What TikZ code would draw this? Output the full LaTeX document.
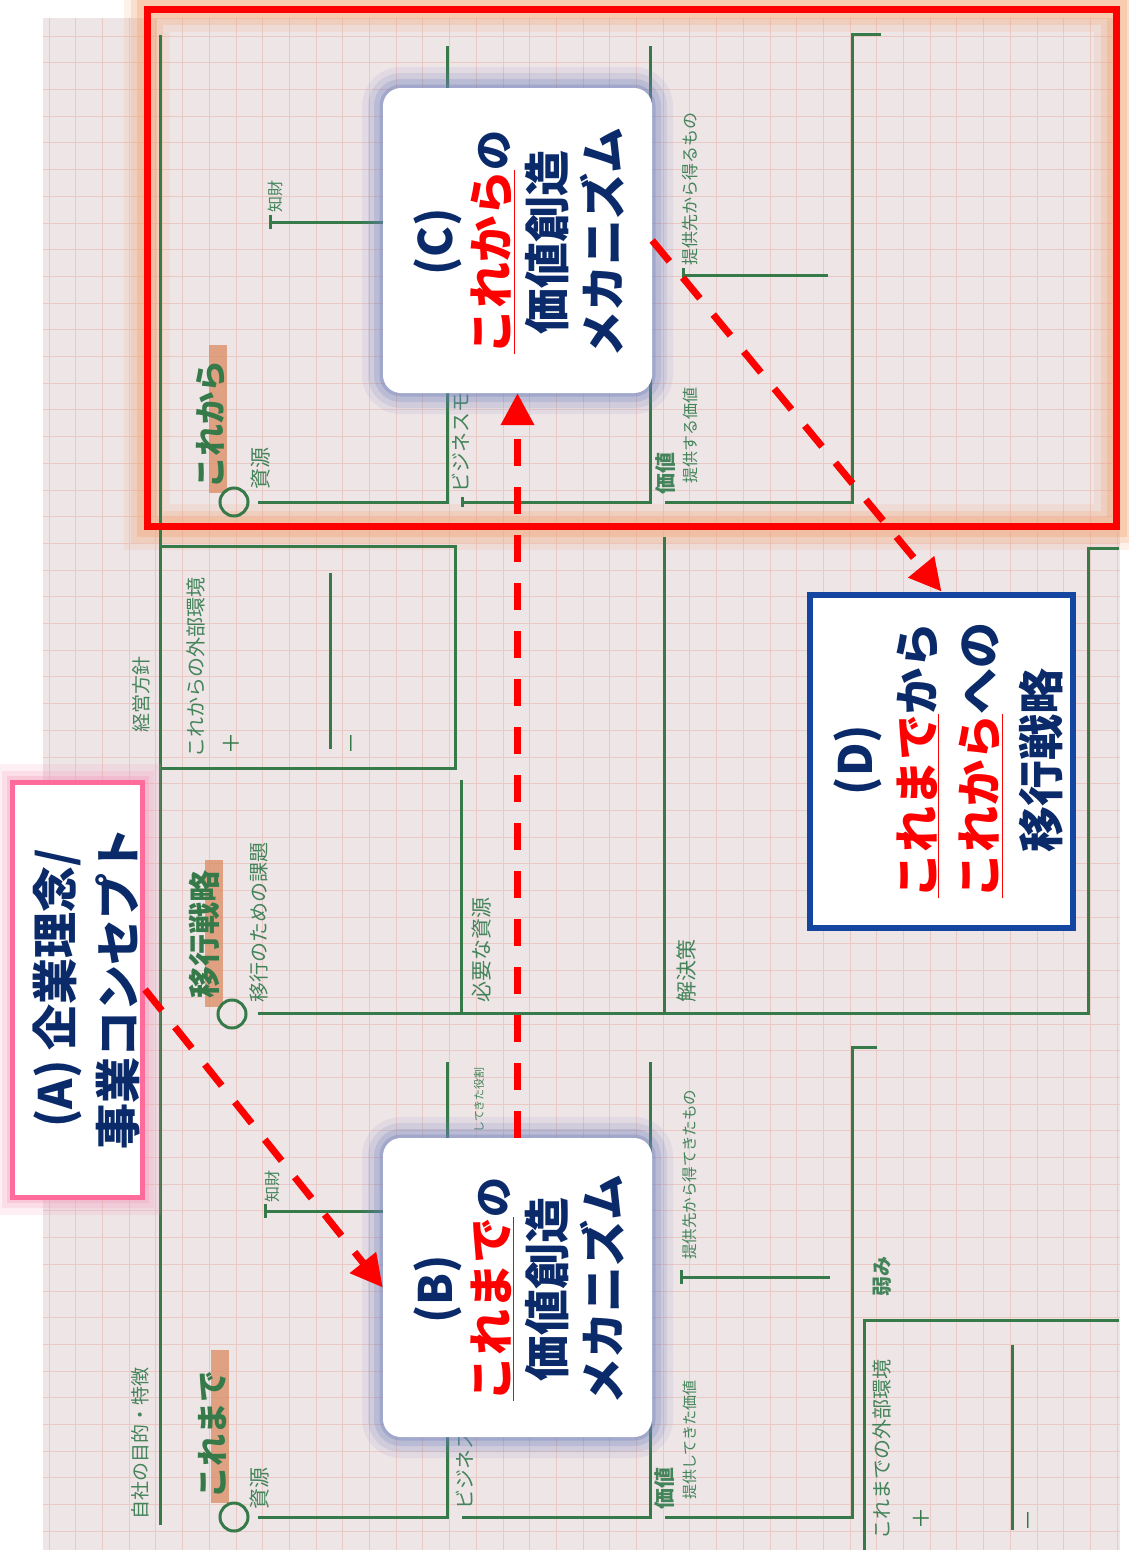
\documentclass[tikz,border=0pt]{standalone}
\usepackage{fontspec}
\setmainfont{Noto Sans CJK JP}
\usetikzlibrary{arrows.meta,positioning,calc}
\definecolor{cGreen}{HTML}{367A4A}
\definecolor{cLeaf}{HTML}{43845A}
\definecolor{cPaper}{HTML}{EEE5E7}
\definecolor{cGrid}{HTML}{EAC9C5}
\definecolor{cNavy}{HTML}{0B2A6A}
\definecolor{cRed}{HTML}{FF0000}
\definecolor{cGlowO}{HTML}{F5A270}
\definecolor{cGlowB}{HTML}{6F80BA}
\definecolor{cGlowP}{HTML}{F59ABB}
\definecolor{cPink}{HTML}{FF6C9C}
\definecolor{cBlue}{HTML}{1445A0}
\definecolor{cMarker}{HTML}{DC9068}
\newcommand{\jpsz}[2]{\fontsize{#1}{#2}\selectfont}
\newcommand{\redul}[1]{\textcolor{cRed}{\underline{#1}}}
\tikzset{
  gridln/.style={draw=cGrid,line width=0.8pt},
  wline/.style={draw=cGreen,line width=3pt},
  lbl/.style={rotate=90,anchor=west,text=cLeaf,inner sep=0pt,font=\jpsz{20}{22}},
  headlbl/.style={rotate=90,anchor=west,text=cGreen,inner sep=0pt,font=\bfseries\jpsz{32}{34}},
  signlbl/.style={rotate=90,text=cGreen,inner sep=0pt,font=\jpsz{22}{24}},
  marker/.style={fill=cMarker,opacity=0.8},
  ringmark/.style={circle,draw=cGreen,line width=3pt,minimum size=28pt,inner sep=0pt},
  cardbox/.style={rounded corners=18pt,fill=white,
    preaction={draw=cGlowB,line width=42pt,opacity=0.10},
    preaction={draw=cGlowB,line width=30pt,opacity=0.15},
    preaction={draw=cGlowB,line width=18pt,opacity=0.22},
    preaction={draw=cGlowB,line width=7pt,opacity=0.32}},
  cardtxt/.style={rotate=90,align=center,text=cNavy,inner sep=0pt,
    font=\bfseries\jpsz{46}{56}},
  flow/.style={draw=cRed,line width=7pt,dash pattern=on 27pt off 21pt,
    -{Triangle[length=32pt,width=32pt]}}
}

\begin{document}
\begin{tikzpicture}[x=1pt,y=-1pt]
  \useasboundingbox (0,0) rectangle (1129,1550);
  \fill[white] (0,0) rectangle (1129,1550);

  % paper and grid
  \fill[cPaper] (43,18) rectangle (1120,1550);
  \foreach \k in {0,...,40}
    \draw[gridln] ({49+26.7*\k},18) -- ({49+26.7*\k},1550);
  \foreach \k in {0,...,56}
    \draw[gridln] (43,{36+26.7*\k}) -- (1120,{36+26.7*\k});

  % glow of the red frame
  \draw[cGlowO,line width=46pt,opacity=0.15] (147,9) rectangle (1116.5,526.5);
  \draw[cGlowO,line width=32pt,opacity=0.22] (147,9) rectangle (1116.5,526.5);
  \draw[cGlowO,line width=20pt,opacity=0.32] (147,9) rectangle (1116.5,526.5);

  % markers
  \fill[marker] (209,345) rectangle (227,493);
  \fill[marker] (205,860) rectangle (223,1007);
  \fill[marker] (211,1350) rectangle (229,1503);

  % worksheet lines
  \draw[wline] (160,35) -- (160,1525);
  \draw[wline] (258,502) -- (447,502) -- (447,46);
  \draw[wline] (270,215) -- (270,229);
  \draw[wline] (270,222) -- (400,222);
  \draw[wline] (462,497) -- (462,507);
  \draw[wline] (462,502) -- (650,502) -- (650,46);
  \draw[wline] (665,502) -- (852,502) -- (852,34) -- (881,34);
  \draw[wline] (683,268) -- (683,282);
  \draw[wline] (683,275) -- (828,275);

  \draw[wline] (160,546) -- (455,546) -- (455,768) -- (160,768);
  \draw[wline] (330,573) -- (330,749);
  \draw[wline] (258,1013) -- (1088,1013) -- (1088,548) -- (1119,548);
  \draw[wline] (461,780) -- (461,1013);
  \draw[wline] (664,537) -- (664,1013);

  \draw[wline] (258,1517) -- (447,1517) -- (447,1062);
  \draw[wline] (265,1204) -- (265,1218);
  \draw[wline] (265,1211) -- (400,1211);
  \draw[wline] (462,1517) -- (650,1517) -- (650,1062);
  \draw[wline] (665,1517) -- (852,1517) -- (852,1047) -- (877,1047);
  \draw[wline] (681,1270) -- (681,1284);
  \draw[wline] (681,1277) -- (830,1277);
  \draw[wline] (1119,1320) -- (864,1320) -- (864,1550);
  \draw[wline] (1012,1345) -- (1012,1530);

  % rings
  \node[ringmark] (ringFuture) at (234,502) {};
  \node[ringmark] (ringShift) at (232,1014) {};
  \node[ringmark] (ringPast) at (234,1517) {};

  % labels, upper block
  \node[headlbl] (hFuture) at (211,489) {これから};
  \node[lbl,font=\jpsz{21}{22}] (resF) at (261,490) {資源};
  \node[lbl,font=\jpsz{16}{18}] (ipF) at (275,213) {知財};
  \node[lbl] (bizF) at (461,493) {ビジネスモ};
  \node[lbl,font=\bfseries\jpsz{21}{22}] (valF) at (666,495) {価値};
  \node[lbl,font=\jpsz{16}{18}] (giveF) at (690,484) {提供する価値};
  \node[lbl,font=\jpsz{17}{18}] (getF) at (690,266) {提供先から得るもの};

  % labels, middle block
  \node[lbl] (envF) at (196,758) {これからの外部環境};
  \node[lbl,font=\jpsz{19}{20}] (policy) at (141,733) {経営方針};
  \node[signlbl] (plusF) at (231,743) {＋};
  \node[signlbl] (minusF) at (355,743) {－};
  \node[headlbl] (hShift) at (204,999) {移行戦略};
  \node[lbl] (task) at (259,1003) {移行のための課題};
  \node[lbl,font=\jpsz{21}{22}] (need) at (482,1003) {必要な資源};
  \node[lbl,font=\jpsz{21}{22}] (solve) at (686,1003) {解決策};

  % labels, lower block
  \node[headlbl] (hPast) at (212,1499) {これまで};
  \node[lbl,font=\jpsz{21}{22}] (resP) at (260,1510) {資源};
  \node[lbl,font=\jpsz{19}{20}] (purpose) at (140,1520) {自社の目的・特徴};
  \node[lbl,font=\jpsz{16}{18}] (ipP) at (272,1203) {知財};
  \node[lbl] (bizP) at (465,1510) {ビジネス};
  \node[lbl,anchor=east,font=\jpsz{11}{12}] (roleP) at (479,1067) {してきた役割};
  \node[lbl,font=\bfseries\jpsz{21}{22}] (valP) at (665,1510) {価値};
  \node[lbl,font=\jpsz{15}{16}] (giveP) at (690,1500) {提供してきた価値};
  \node[lbl,font=\jpsz{15.5}{16}] (getP) at (690,1260) {提供先から得てきたもの};
  \node[lbl,font=\bfseries\jpsz{20}{22}] (weak) at (882,1297) {弱み};
  \node[lbl] (envP) at (882,1540) {これまでの外部環境};
  \node[signlbl] (plusP) at (921,1518) {＋};
  \node[signlbl] (minusP) at (1032,1520) {－};

  % cards
  \node[cardbox,minimum width=269pt,minimum height=305pt] (mechC) at (517.5,240.5) {};
  \node[cardtxt] (txtC) at (519,242)
    {(C)\\\redul{これから}{\jpsz{40}{56}の}\\価値創造\\メカニズム};
  \node[cardbox,minimum width=269pt,minimum height=299pt] (mechB) at (517.5,1287.5) {};
  \node[cardtxt] (txtB) at (519,1289)
    {(B)\\\redul{これまで}{\jpsz{40}{56}の}\\価値創造\\メカニズム};

  \node[draw=cBlue,line width=6pt,fill=white,minimum width=263pt,minimum height=333pt]
    (mechD) at (941.5,761) {};
  \node[cardtxt,font=\bfseries\jpsz{46}{62}] (txtD) at (948,760)
    {(D)\\\redul{これまで}から\\\redul{これから}への\\移行戦略};

  \node[draw=cPink,line width=5pt,fill=white,minimum width=130pt,minimum height=415pt,
    preaction={draw=cGlowP,line width=36pt,opacity=0.15},
    preaction={draw=cGlowP,line width=22pt,opacity=0.2},
    preaction={draw=cGlowP,line width=12pt,opacity=0.3}]
    (mechA) at (77.5,989.5) {};
  \node[cardtxt,font=\bfseries\jpsz{46}{63}] (txtA) at (86,988)
    {(A) 企業理念/\\事業コンセプト};

  % red frame
  \draw[cRed,line width=7pt] (147,9) rectangle (1116.5,526.5);

  % arrows
  \draw[flow] (mechA.east) -- (mechB.west);
  \draw[flow] (mechB.north) -- (mechC.south);
  \draw[flow] (mechC.east) -- (mechD.north);
\end{tikzpicture}
\end{document}
